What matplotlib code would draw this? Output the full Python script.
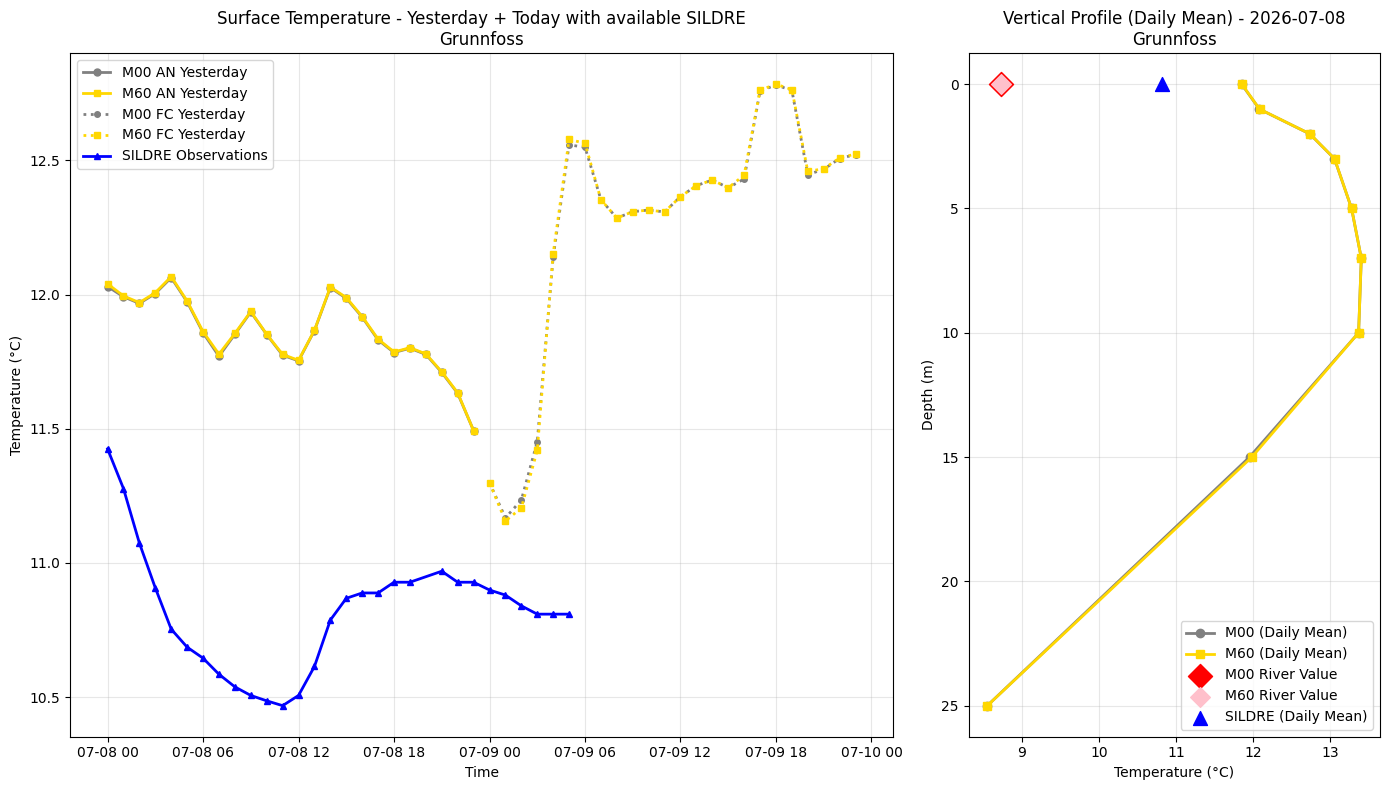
import matplotlib
matplotlib.use("Agg")
import matplotlib.pyplot as plt
import matplotlib.dates as mdates
import pandas as pd
import numpy as np

# ---- Surface temperature data ----
an_times = pd.date_range("2026-07-08 00:00", periods=24, freq="h")
m00_an = [12.030, 11.992, 11.967, 12.004, 12.063, 11.973, 11.858, 11.770, 11.852, 11.935,
          11.851, 11.774, 11.753, 11.866, 12.026, 11.986, 11.916, 11.831, 11.784, 11.800,
          11.777, 11.710, 11.632, 11.493]
m60_an = [12.040, 11.995, 11.970, 12.007, 12.067, 11.976, 11.862, 11.778, 11.855, 11.937,
          11.852, 11.777, 11.755, 11.867, 12.028, 11.989, 11.918, 11.834, 11.786, 11.802,
          11.779, 11.712, 11.634, 11.493]

fc_times = pd.date_range("2026-07-09 00:00", periods=24, freq="h")
m00_fc = [11.299, 11.168, 11.234, 11.452, 12.139, 12.558, 12.549, 12.354, 12.285, 12.309,
          12.315, 12.308, 12.365, 12.406, 12.427, 12.398, 12.431, 12.759, 12.781, 12.761,
          12.447, 12.467, 12.507, 12.522]
m60_fc = [11.299, 11.156, 11.205, 11.419, 12.152, 12.578, 12.564, 12.354, 12.285, 12.309,
          12.315, 12.308, 12.365, 12.406, 12.427, 12.398, 12.445, 12.762, 12.784, 12.764,
          12.459, 12.469, 12.509, 12.524]

sildre_hours = [0, 1, 2, 3, 4, 5, 6, 7, 8, 9, 10, 11, 12, 13, 14, 15, 16, 17, 18, 19,
                21, 22, 23, 24, 25, 26, 27, 28, 29]
sildre_vals = [11.425, 11.277, 11.074, 10.907, 10.753, 10.686, 10.645, 10.585, 10.538, 10.506,
               10.486, 10.468, 10.506, 10.614, 10.787, 10.868, 10.888, 10.888, 10.928, 10.928,
               10.969, 10.928, 10.928, 10.899, 10.880, 10.840, 10.809, 10.809, 10.809]
sildre_times = pd.Timestamp("2026-07-08 00:00") + pd.to_timedelta(sildre_hours, unit="h")

# ---- Vertical profile data ----
depths = [0, 1, 2, 3, 5, 7, 10, 15, 25]
m00_profile = [11.850, 12.080, 12.735, 13.055, 13.277, 13.403, 13.368, 11.952, 8.549]
m60_profile = [11.853, 12.082, 12.736, 13.056, 13.277, 13.403, 13.368, 11.983, 8.549]
m00_river = 8.727
m60_river = 8.727
sildre_mean = 10.81
river_depth = 0

GOLD = "#FFD700"

fig, (ax1, ax2) = plt.subplots(1, 2, figsize=(14, 8), dpi=100,
                               gridspec_kw={"width_ratios": [2, 1]})

ax1.plot(an_times, m00_an, color="gray", marker="o", markersize=5, linewidth=2,
         label="M00 AN Yesterday")
ax1.plot(an_times, m60_an, color=GOLD, marker="s", markersize=5, linewidth=2,
         label="M60 AN Yesterday")
ax1.plot(fc_times, m00_fc, color="gray", marker="o", markersize=4, linewidth=2,
         linestyle=":", label="M00 FC Yesterday")
ax1.plot(fc_times, m60_fc, color=GOLD, marker="s", markersize=4, linewidth=2,
         linestyle=":", label="M60 FC Yesterday")
ax1.plot(sildre_times, sildre_vals, color="blue", marker="^", markersize=5, linewidth=2,
         label="SILDRE Observations")
ax1.set_title("Surface Temperature - Yesterday + Today with available SILDRE\nGrunnfoss")
ax1.set_xlabel("Time")
ax1.set_ylabel("Temperature (°C)")
ax1.xaxis.set_major_locator(mdates.HourLocator(byhour=[0, 6, 12, 18]))
ax1.xaxis.set_major_formatter(mdates.DateFormatter("%m-%d %H"))
ax1.grid(True, alpha=0.3)
ax1.legend(loc="upper left")

ax2.plot(m00_profile, depths, color="gray", marker="o", markersize=6, linewidth=2,
         label="M00 (Daily Mean)")
ax2.plot(m60_profile, depths, color=GOLD, marker="s", markersize=6, linewidth=2,
         label="M60 (Daily Mean)")
ax2.scatter([m00_river], [river_depth], color="red", marker="D", s=150, zorder=5,
            label="M00 River Value")
ax2.scatter([m60_river], [river_depth], color="pink", marker="D", s=100, zorder=6,
            label="M60 River Value")
ax2.scatter([sildre_mean], [river_depth], color="blue", marker="^", s=100, zorder=6,
            label="SILDRE (Daily Mean)")
ax2.invert_yaxis()
ax2.set_title("Vertical Profile (Daily Mean) - 2026-07-08\nGrunnfoss")
ax2.set_xlabel("Temperature (°C)")
ax2.set_ylabel("Depth (m)")
ax2.grid(True, alpha=0.3)
ax2.legend(loc="lower right")

plt.tight_layout()
fig.savefig("out.png", dpi=100, bbox_inches="tight")
